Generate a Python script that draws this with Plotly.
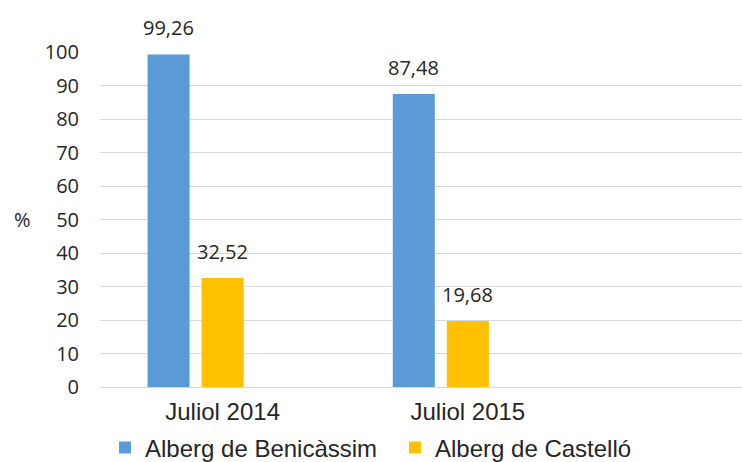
import plotly.graph_objects as go

categories = ["Juliol 2014", "Juliol 2015"]
benicassim = [99.26, 87.48]
castello = [32.52, 19.68]
series_names = ["Alberg de Benicàssim", "Alberg de Castelló"]
colors = ["#5B9BD5", "#FFC000"]
y_ticks = list(range(0, 101, 10))

def fmt(v):
    return f"{v:.2f}".replace(".", ",")

W, H = 742, 462
L, T, B = 100, 52, 75
cat_px = 245.0
bar_w = 42 / cat_px
slot = 54 / cat_px
offsets = [-slot - bar_w / 2, -bar_w / 2]
label_shift = [-54, 0]

fig = go.Figure()
for i, (name, vals) in enumerate(zip(series_names, [benicassim, castello])):
    fig.add_trace(go.Bar(
        x=categories, y=vals, name=name,
        marker=dict(color=colors[i], line=dict(width=0)),
        width=bar_w, offset=offsets[i],
    ))
    for c, v in zip(categories, vals):
        fig.add_annotation(
            x=c, y=v, text=fmt(v), showarrow=False,
            xshift=label_shift[i], yshift=26.5, yanchor="middle",
            font=dict(family="Open Sans", size=20, color="#262626"),
        )

fig.add_annotation(
    xref="paper", yref="y", x=(22 - L) / (W - L), y=50, text="%", showarrow=False,
    xanchor="center", yanchor="middle",
    font=dict(family="Open Sans", size=20, color="#262626"),
)

fig.update_layout(
    width=W, height=H,
    margin=dict(l=L, r=0, t=T, b=B, autoexpand=False),
    paper_bgcolor="white", plot_bgcolor="white",
    barmode="overlay",
    showlegend=True,
    legend=dict(
        orientation="h", xref="container", yref="container",
        x=105 / W, y=(H - 448) / H, xanchor="left", yanchor="middle",
        font=dict(family="Liberation Sans, Arial", size=24, color="#262626"),
        entrywidth=245, entrywidthmode="pixels",
        itemwidth=30, bgcolor="rgba(0,0,0,0)",
    ),
    xaxis=dict(
        type="category", range=[-0.5, 2.118],
        showgrid=False, showline=False, zeroline=False,
        ticks="", ticklabelstandoff=8,
        tickfont=dict(family="Liberation Sans, Arial", size=24, color="#262626"),
    ),
    yaxis=dict(
        range=[0, 100], tickvals=y_ticks,
        showgrid=True, gridcolor="#D9D9D9", gridwidth=1,
        zeroline=True, zerolinecolor="#D9D9D9", zerolinewidth=1,
        showline=False, ticks="", ticklabelstandoff=20,
        tickfont=dict(family="Open Sans", size=20, color="#262626"),
    ),
)

fig.write_html(
    "out.html",
    config={"displayModeBar": False},
    post_script="document.body.style.margin='0';document.body.style.overflow='hidden';",
)
